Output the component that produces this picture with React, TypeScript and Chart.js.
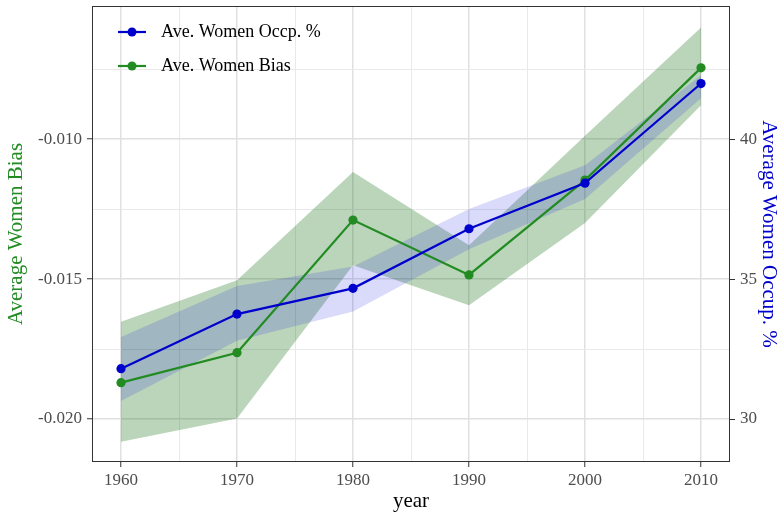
import React, { useEffect, useRef } from "react";
import { Chart, registerables } from "chart.js";

Chart.register(...registerables);

// ---- data ----
const years = [1960, 1970, 1980, 1990, 2000, 2010];
const biasMean = [-0.0187, -0.01763, -0.01289, -0.01485, -0.01146, -0.00745];
const biasUpper = [-0.01652, -0.01504, -0.01117, -0.01379, -0.00988, -0.00601];
const biasLower = [-0.02081, -0.01998, -0.0145, -0.01593, -0.01299, -0.00879];
const occMean = [31.8, 33.75, 34.67, 36.8, 38.43, 41.99];
const occUpper = [32.93, 34.75, 35.45, 37.51, 39.07, 42.29];
const occLower = [30.64, 32.8, 33.84, 36.07, 37.86, 41.46];

const xTicks = [1960, 1965, 1970, 1975, 1980, 1985, 1990, 1995, 2000, 2005, 2010];
const xMajor = [1960, 1970, 1980, 1990, 2000, 2010];
const leftTicks = [-0.02, -0.0175, -0.015, -0.0125, -0.01, -0.0075];
const leftMajor = [-0.02, -0.015, -0.01];
const rightTicks = [30, 35, 40];
const legendLabels = ["Ave. Women Occp. %", "Ave. Women Bias"];
const xTitle = "year";
const leftTitle = "Average Women Bias";
const rightTitle = "Average Women Occup. %";

// axis ranges
const xMin = 1957.5;
const xMax = 2012.5;
const leftMin = -0.021536;
const leftMax = -0.005239;
// right axis is a linear transform of the left one: occ = 40 + (bias + 0.010) * 1000
const toRight = (v: number) => 40 + (v + 0.01) * 1000;

const FONT = "'Liberation Serif', 'Times New Roman', serif";
const BLUE = "#0000CD";
const GREEN = "#228B22";
const BLUE_FILL = "rgba(10,10,225,0.15)";
const GREEN_FILL = "rgba(0,100,0,0.27)";

const near = (list: number[], v: number) => list.some((m) => Math.abs(m - v) < 1e-9);
const pts = (ys: number[]) => years.map((x, i) => ({ x, y: ys[i] }));

const borderPlugin = {
  id: "panelBorder",
  afterDraw(chart: any) {
    const { ctx, chartArea } = chart;
    ctx.save();
    ctx.strokeStyle = "#333333";
    ctx.lineWidth = 1;
    ctx.strokeRect(
      Math.round(chartArea.left) + 0.5,
      Math.round(chartArea.top) + 0.5,
      Math.round(chartArea.right - chartArea.left) - 1,
      Math.round(chartArea.bottom - chartArea.top) - 1
    );
    ctx.restore();
  },
};

const legendPlugin = {
  id: "innerLegend",
  afterDraw(chart: any) {
    const { ctx, chartArea } = chart;
    const items = [
      { label: legendLabels[0], color: BLUE, dy: 26 },
      { label: legendLabels[1], color: GREEN, dy: 60 },
    ];
    ctx.save();
    items.forEach((it) => {
      const y = chartArea.top + it.dy;
      const x0 = chartArea.left + 26;
      ctx.strokeStyle = it.color;
      ctx.lineWidth = 2.2;
      ctx.beginPath();
      ctx.moveTo(x0, y);
      ctx.lineTo(x0 + 28, y);
      ctx.stroke();
      ctx.fillStyle = it.color;
      ctx.beginPath();
      ctx.arc(x0 + 14, y, 4.5, 0, Math.PI * 2);
      ctx.fill();
      ctx.fillStyle = "#000000";
      ctx.font = `18px ${FONT}`;
      ctx.textBaseline = "middle";
      ctx.textAlign = "left";
      ctx.fillText(it.label, x0 + 43, y);
    });
    ctx.restore();
  },
};

export default function App() {
  const canvasRef = useRef<HTMLCanvasElement | null>(null);

  useEffect(() => {
    if (!canvasRef.current) return;
    const lineDs = (label: string, data: number[], axis: string, color: string) => ({
      label,
      data: pts(data),
      yAxisID: axis,
      borderColor: color,
      backgroundColor: color,
      borderWidth: 2.2,
      pointRadius: 4.6,
      pointBorderWidth: 0,
      pointBackgroundColor: color,
      fill: false,
      tension: 0,
    });
    const bandDs = (label: string, data: number[], axis: string, fill: any, bg: string) => ({
      label,
      data: pts(data),
      yAxisID: axis,
      borderColor: "transparent",
      borderWidth: 1,
      pointRadius: 0,
      fill,
      backgroundColor: bg,
      tension: 0,
    });

    const chart = new Chart(canvasRef.current, {
      type: "line",
      data: {
        datasets: [
          lineDs(legendLabels[0], occMean, "y2", BLUE),
          lineDs(legendLabels[1], biasMean, "y", GREEN),
          bandDs("occUpper", occUpper, "y2", "+1", BLUE_FILL),
          bandDs("occLower", occLower, "y2", false, "transparent"),
          bandDs("biasUpper", biasUpper, "y", "+1", GREEN_FILL),
          bandDs("biasLower", biasLower, "y", false, "transparent"),
        ] as any,
      },
      options: {
        responsive: false,
        animation: false,
        layout: { padding: { top: 6, left: 0, right: 0, bottom: 0 } },
        plugins: {
          legend: { display: false },
          tooltip: { enabled: false },
        },
        scales: {
          x: {
            type: "linear",
            min: xMin,
            max: xMax,
            afterBuildTicks: (s: any) => {
              s.ticks = xTicks.map((v) => ({ value: v }));
            },
            afterFit: (s: any) => {
              s.height = 52;
              s.paddingLeft = 0;
              s.paddingRight = 0;
            },
            ticks: {
              autoSkip: false,
              maxRotation: 0,
              padding: 3,
              color: "#4d4d4d",
              font: { family: FONT, size: 17 },
              callback: (v: any) => (near(xMajor, Number(v)) ? String(v) : ""),
            },
            grid: {
              color: (c: any) => (near(xMajor, c.tick?.value) ? "#e0e0e0" : "#e9e9e9"),
              lineWidth: (c: any) => (near(xMajor, c.tick?.value) ? 1.5 : 1),
              tickColor: (c: any) => (near(xMajor, c.tick?.value) ? "#333333" : "rgba(0,0,0,0)"),
              tickLength: 5,
              tickWidth: 1,
            },
            border: { display: false },
            title: {
              display: true,
              text: xTitle,
              color: "#000000",
              font: { family: FONT, size: 21, lineHeight: 1 },
              padding: { top: 0, bottom: 2 },
            },
          },
          y: {
            type: "linear",
            position: "left",
            min: leftMin,
            max: leftMax,
            afterBuildTicks: (s: any) => {
              s.ticks = leftTicks.map((v) => ({ value: v }));
            },
            afterFit: (s: any) => {
              s.width = 92;
              s.paddingTop = 0;
              s.paddingBottom = 0;
            },
            ticks: {
              padding: 5,
              color: "#4d4d4d",
              font: { family: FONT, size: 17 },
              callback: (v: any) => (near(leftMajor, Number(v)) ? Number(v).toFixed(3) : ""),
            },
            grid: {
              color: (c: any) => (near(leftMajor, c.tick?.value) ? "#e0e0e0" : "#e9e9e9"),
              lineWidth: (c: any) => (near(leftMajor, c.tick?.value) ? 1.5 : 1),
              tickColor: (c: any) => (near(leftMajor, c.tick?.value) ? "#333333" : "rgba(0,0,0,0)"),
              tickLength: 5,
              tickWidth: 1,
            },
            border: { display: false },
            title: {
              display: true,
              text: leftTitle,
              color: GREEN,
              font: { family: FONT, size: 21, lineHeight: 1 },
              padding: { top: 6, bottom: 0 },
            },
          },
          y2: {
            type: "linear",
            position: "right",
            min: toRight(leftMin),
            max: toRight(leftMax),
            afterBuildTicks: (s: any) => {
              s.ticks = rightTicks.map((v) => ({ value: v }));
            },
            afterFit: (s: any) => {
              s.width = 51;
              s.paddingTop = 0;
              s.paddingBottom = 0;
            },
            ticks: {
              padding: 5,
              color: "#4d4d4d",
              font: { family: FONT, size: 17 },
              callback: (v: any) => String(v),
            },
            grid: {
              drawOnChartArea: false,
              tickColor: "#333333",
              tickLength: 5,
              tickWidth: 1,
            },
            border: { display: false },
            title: {
              display: true,
              text: rightTitle,
              color: BLUE,
              font: { family: FONT, size: 21, lineHeight: 1 },
              padding: { top: 2, bottom: 0 },
            },
          },
        },
      } as any,
      plugins: [borderPlugin, legendPlugin],
    });
    return () => chart.destroy();
  }, []);

  return (
    <div style={{ position: "absolute", left: 0, top: 0, width: 781, height: 514, background: "#ffffff" }}>
      <canvas ref={canvasRef} width={781} height={514} style={{ display: "block" }} />
    </div>
  );
}
